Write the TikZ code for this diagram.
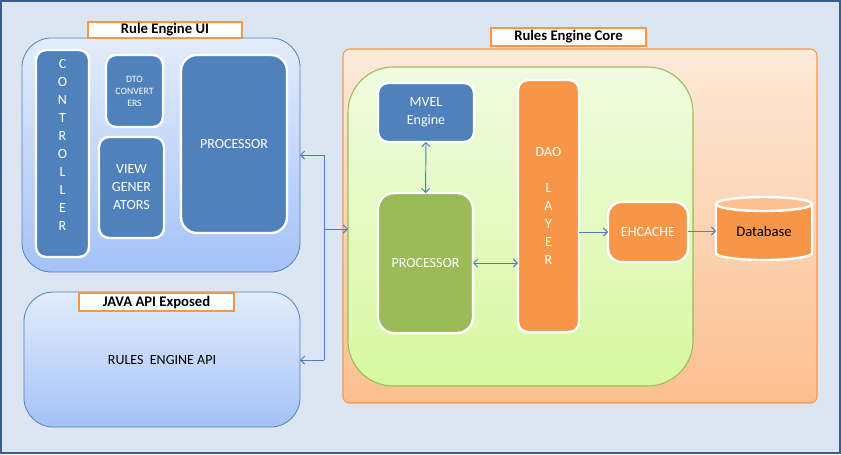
\documentclass[tikz,border=0pt]{standalone}
\usepackage{fontspec}
\setmainfont{Carlito}
\usepackage{tikz}
\usetikzlibrary{arrows.meta}
\definecolor{bgblue}{HTML}{DCE6F2}
\definecolor{frameblue}{HTML}{385D8A}
\definecolor{uiblue}{HTML}{4F81BD}
\definecolor{uitop}{HTML}{E3ECFB}
\definecolor{uibot}{HTML}{A4C2F7}
\definecolor{coretop}{HTML}{FDE9D9}
\definecolor{corebot}{HTML}{FBBF8E}
\definecolor{coreline}{HTML}{F79646}
\definecolor{grntop}{HTML}{F0FBE0}
\definecolor{grnbot}{HTML}{D7F8A0}
\definecolor{grnline}{HTML}{9BBB59}
\definecolor{dbtop}{HTML}{FAC090}
\definecolor{linkblue}{HTML}{4A7EBB}

\tikzset{
    px/.style 2 args={minimum width=#1*0.75pt, minimum height=#2*0.75pt,
        inner sep=0pt, outer sep=0pt},
    part/.style={rounded corners=7.5pt, draw=white, line width=1.8pt,
        text=white, align=center, font=\fontsize{10.5}{13.5}\selectfont},
    bluepart/.style={part, fill=uiblue},
    tag/.style={fill=white, draw=coreline, line width=1.5pt,
        font=\fontsize{11}{12}\selectfont\bfseries},
    link/.style={draw=linkblue, line width=0.7pt},
    arr/.style={link, -{Straight Barb[length=3pt,width=6pt]}},
    darr/.style={link, {Straight Barb[length=3pt,width=6pt]}-{Straight Barb[length=3pt,width=6pt]}}
}

\begin{document}
\begin{tikzpicture}[x=0.75pt, y=-0.75pt]
    \useasboundingbox (0,0) rectangle (841,454);
    \draw[fill=bgblue, draw=frameblue, line width=1.5pt] (1,1) rectangle (840,453);

    % rule engine ui
    \node[px={278}{234}, rounded corners=22pt, top color=uitop, bottom color=uibot,
        draw=uiblue, line width=0.6pt] (ui) at (161,155) {};
    \node[px={53}{207}, bluepart] (ctrl) at (62.5,153.5) {};
    \node[bluepart, draw=none, fill=none, inner sep=0pt] (ctrltxt) at (62.5,145) {C\\O\\N\\T\\R\\O\\L\\L\\E\\R};
    \node[px={57}{72}, bluepart, font=\fontsize{7.3}{9}\selectfont] (dto) at (134.5,91) {DTO\\CONVERT\\ERS};
    \node[px={65}{101}, bluepart] (view) at (131.5,187.5) {VIEW\\GENER\\ATORS};
    \node[px={106}{178}, bluepart, rounded corners=12pt] (uproc) at (234,144) {PROCESSOR};
    \node[px={154}{16}, tag] (tui) at (165,30) {Rule Engine UI};

    % java api
    \node[px={276}{135}, rounded corners=22pt, top color=uitop, bottom color=uibot,
        draw=uiblue, line width=0.6pt, font=\fontsize{10.5}{12}\selectfont] (api) at (162,359.5) {RULES\ \ ENGINE API};
    \node[px={155}{18}, tag] (tapi) at (156.5,302) {JAVA API Exposed};

    % rules engine core
    \node[px={474}{354}, rounded corners=5pt, top color=coretop, bottom color=corebot,
        draw=coreline, line width=0.8pt] (core) at (580,226) {};
    \node[px={345}{319}, rounded corners=34pt, top color=grntop, bottom color=grnbot,
        draw=grnline, line width=0.8pt] (grn) at (520.5,226.5) {};
    \node[px={155}{18}, tag] (tcore) at (568.5,37) {Rules Engine Core};

    \node[px={96}{59}, bluepart] (mvel) at (426,112.5) {MVEL\\Engine};
    \node[px={95}{140}, part, fill=grnline, rounded corners=12pt] (gproc) at (425.5,263) {PROCESSOR};
    \node[px={61}{252}, part, fill=coreline] (dao) at (548.5,206) {DAO\\ \\L\\A\\Y\\E\\R};
    \node[px={80}{60}, part, fill=coreline, rounded corners=10pt] (eh) at (648,232) {EHCACHE};

    % database
    \path[fill=coreline, draw=white, line width=1.8pt] (716,204) -- (716,253)
        arc[start angle=180, end angle=0, x radius=48, y radius=7] -- (812,204);
    \draw[fill=dbtop, draw=white, line width=1.8pt] (764,204) ellipse[x radius=48, y radius=7];
    \node[px={96}{63}, font=\fontsize{11}{12}\selectfont] (db) at (764,231) {Database};

    % connectors
    \coordinate (jtop) at (324,155);
    \coordinate (jmid) at (324,229);
    \coordinate (jbot) at (324,360);
    \draw[link] (jtop) -- (jbot);
    \draw[arr] (jtop) -- (ui.east |- jtop);
    \draw[arr] (jbot) -- (api.east |- jbot);
    \draw[arr] (jmid) -- (grn.west |- jmid);
    \draw[darr] (mvel.south) -- (gproc.north);
    \draw[darr] (gproc.east) -- (dao.west |- gproc.east);
    \draw[arr] (dao.east |- eh.west) -- (eh.west);
    \draw[arr, draw=linkblue!70!gray] (eh.east |- db.west) -- (db.west);
\end{tikzpicture}
\end{document}
